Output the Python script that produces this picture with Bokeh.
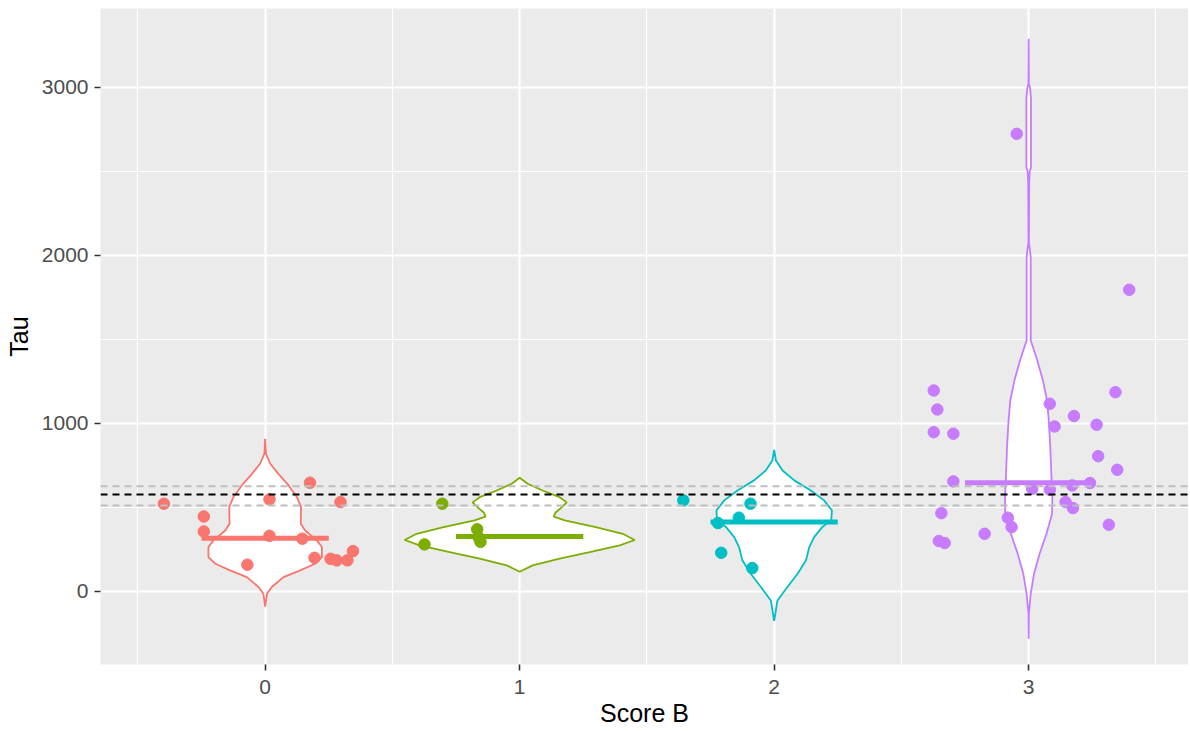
from bokeh.plotting import figure
from bokeh.models import Range1d, FixedTicker, Span
from bokeh.embed import file_html
from bokeh.resources import INLINE

# ---------------- data ----------------
categories = [0, 1, 2, 3]
colors = ["#F8766D", "#7CAE00", "#00BFC4", "#C77CFF"]

# median per Score B group
medians = [317, 327, 413, 647]

# overall mean and its interval (dashed reference lines)
mean_tau = 577
ci_low = 511
ci_high = 626

# jittered observations: x offset from the group centre, Tau value
offsets0 = [-0.398, -0.241, -0.241, 0.017, 0.017, 0.146, 0.176, 0.296, -0.070, 0.194, 0.257, 0.281, 0.323, 0.345]
tau0 = [522, 446, 357, 548, 331, 314, 647, 532, 159, 200, 194, 185, 185, 240]

offsets1 = [-0.304, -0.374, -0.167, -0.160, -0.154]
tau1 = [522, 280, 370, 320, 295]

offsets2 = [-0.357, -0.093, -0.139, -0.221, -0.208, -0.086]
tau2 = [542, 522, 439, 407, 230, 139]

offsets3 = [-0.373, -0.359, -0.373, -0.296, -0.296, -0.343, -0.353, -0.330, -0.173, -0.082,
            -0.067, 0.083, 0.102, 0.178, 0.267, 0.341, 0.273, 0.348, 0.014, 0.083,
            0.171, 0.241, 0.145, 0.174, 0.315, -0.047, 0.395]
tau3 = [1196, 1083, 948, 939, 655, 466, 300, 288, 343, 439,
        383, 1117, 982, 1044, 992, 1186, 805, 724, 611, 605,
        631, 645, 532, 496, 397, 2724, 1796]

# violin outlines: Tau levels and half-widths (x units)
violin0_y = [909, 820, 760, 700, 631, 561, 502, 403, 363, 304, 264, 204, 165, 125, 85, 26, -14, -90]
violin0_w = [0, 0.003, 0.020, 0.052, 0.092, 0.125, 0.141, 0.140, 0.157, 0.203, 0.223, 0.223, 0.196, 0.138, 0.072, 0.026, 0.007, 0]

violin1_y = [677, 641, 601, 561, 530, 500, 470, 445, 423, 383, 343, 306, 274, 234, 195, 155, 117]
violin1_w = [0, 0.031, 0.090, 0.157, 0.185, 0.165, 0.141, 0.134, 0.177, 0.299, 0.405, 0.452, 0.393, 0.275, 0.157, 0.051, 0]

violin2_y = [843, 780, 720, 661, 601, 542, 482, 423, 383, 323, 264, 185, 105, 26, -54, -175]
violin2_w = [0, 0.007, 0.033, 0.079, 0.144, 0.196, 0.227, 0.224, 0.189, 0.157, 0.138, 0.125, 0.092, 0.052, 0.013, 0]

violin3_y = [3290, 3020, 3000, 2935, 2524, 2500, 2430, 2080, 2030, 1990, 1494, 1454, 1375, 1256, 1137,
             1018, 859, 700, 561, 462, 343, 224, 105, -14, -133, -282]
violin3_w = [0, 0.001, 0.005, 0.009, 0.009, 0.004, 0.002, 0.001, 0.005, 0.008, 0.008, 0.017, 0.034, 0.056, 0.072,
             0.079, 0.085, 0.089, 0.093, 0.092, 0.070, 0.043, 0.021, 0.008, 0.001, 0]

points_x = [offsets0, offsets1, offsets2, offsets3]
points_y = [tau0, tau1, tau2, tau3]
violins = [(violin0_y, violin0_w), (violin1_y, violin1_w), (violin2_y, violin2_w), (violin3_y, violin3_w)]

x_ticks = [0, 1, 2, 3]
x_minor = [-0.5, 0.5, 1.5, 2.5, 3.5]
y_ticks = [0, 1000, 2000, 3000]
y_minor = [-500, 500, 1500, 2500, 3500]

FONT = "Liberation Sans"

# ---------------- figure ----------------
p = figure(frame_width=1088, frame_height=656,
           x_range=Range1d(-0.647, 3.628), y_range=Range1d(-435, 3470),
           output_backend="svg", toolbar_location=None,
           min_border_left=100, min_border_right=0, min_border_top=8, min_border_bottom=0,
           background_fill_color="#EBEBEB", border_fill_color="white",
           outline_line_color=None)

p.xaxis.ticker = FixedTicker(ticks=x_ticks, minor_ticks=x_minor)
p.yaxis.ticker = FixedTicker(ticks=y_ticks, minor_ticks=y_minor)
p.xgrid.ticker = FixedTicker(ticks=x_ticks, minor_ticks=x_minor)
p.ygrid.ticker = FixedTicker(ticks=y_ticks, minor_ticks=y_minor)

for g in (p.xgrid, p.ygrid):
    g.grid_line_color = "white"
    g.grid_line_width = 2.2
    g.minor_grid_line_color = "white"
    g.minor_grid_line_width = 1.2

for ax in (p.xaxis, p.yaxis):
    ax.axis_line_color = None
    ax.major_tick_line_color = "#333333"
    ax.major_tick_line_width = 1.6
    ax.major_tick_in = 0
    ax.major_tick_out = 6
    ax.minor_tick_line_color = None
    ax.major_label_text_font = FONT
    ax.major_label_text_font_size = "21px"
    ax.major_label_text_color = "#4D4D4D"
    ax.axis_label_text_font = FONT
    ax.axis_label_text_font_size = "25px"
    ax.axis_label_text_font_style = "normal"
    ax.axis_label_text_color = "black"

p.yaxis.major_label_standoff = 6
p.yaxis.axis_label_standoff = 6
p.xaxis.major_label_standoff = 9
p.xaxis.axis_label_standoff = 2

p.xaxis.axis_label = "Score B"
p.yaxis.axis_label = "Tau"

# violins
for c, col, (vy, vw) in zip(categories, colors, violins):
    xs = [c + w for w in vw] + [c - w for w in reversed(vw)]
    ys = list(vy) + list(reversed(vy))
    p.patch(xs, ys, fill_color="white", line_color=col, line_width=1.8)

# jittered points
for c, col, ox, oy in zip(categories, colors, points_x, points_y):
    p.scatter([c + o for o in ox], oy, size=11.5, fill_color=col, line_color=col)

# median bars
for c, col, m in zip(categories, colors, medians):
    p.segment(x0=[c - 0.25], x1=[c + 0.25], y0=[m], y1=[m], line_color=col, line_width=5)

# reference lines
p.add_layout(Span(location=ci_high, dimension="width", line_color="#BEBEBE", line_dash="7 5", line_width=2))
p.add_layout(Span(location=ci_low, dimension="width", line_color="#BEBEBE", line_dash="7 5", line_width=2))
p.add_layout(Span(location=mean_tau, dimension="width", line_color="black", line_dash="7 5", line_width=2))

open("out.html", "w").write(file_html(p, INLINE))
